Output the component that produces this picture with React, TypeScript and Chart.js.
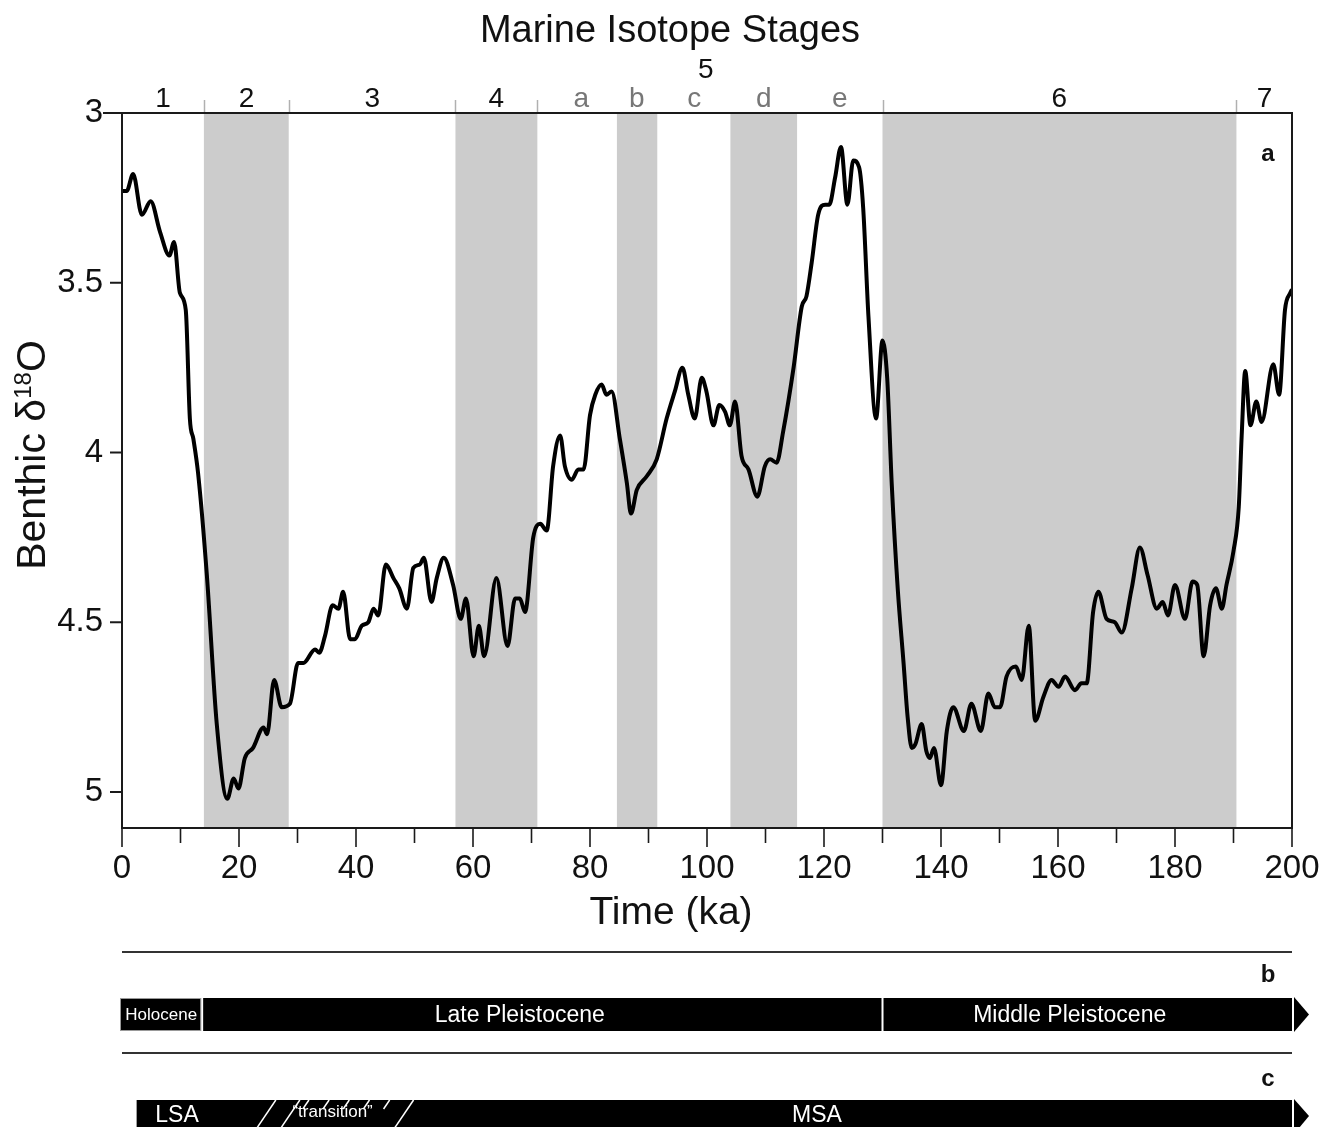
import React, { useEffect, useRef } from 'react';
import { Chart, registerables } from 'chart.js';

Chart.register(...registerables);

const FONT = '"Liberation Sans", Arial, Helvetica, sans-serif';

// Benthic δ18O record (ka, ‰)
const ageKa = [
  0.0, 0.8, 1.9, 3.4, 4.9, 6.5, 8.1, 8.9, 9.9, 10.9, 11.6, 12.2, 13.0, 14.5, 16.2, 18.0, 19.1, 19.9,
  21.0, 22.4, 24.2, 24.8, 26.0, 27.3, 28.7, 30.1, 31.0, 33.0, 33.7, 34.7, 36.0, 37.0, 37.8, 39.0,
  39.8, 41.0, 42.1, 43.0, 43.8, 45.1, 46.4, 47.4, 48.7, 49.8, 50.9, 51.6, 52.9, 53.8, 55.0, 56.6,
  57.9, 58.8, 60.1, 61.0, 61.9, 64.0, 65.9, 67.2, 68.0, 68.9, 70.3, 71.5, 72.6, 73.7, 74.9, 75.7,
  76.9, 78.0, 78.9, 80.0, 80.9, 82.0, 82.8, 83.7, 85.1, 86.3, 87.0, 88.0, 89.7, 91.4, 93.1, 94.5,
  95.8, 96.8, 97.9, 99.1, 99.9, 101.1, 102.1, 103.1, 103.9, 104.8, 105.9, 107.1, 108.6, 109.9,
  110.8, 111.9, 113.0, 114.8, 116.2, 117.0, 117.9, 119.0, 120.2, 120.9, 121.9, 122.9, 124.0, 125.0,
  126.0, 126.7, 127.6, 128.9, 130.0, 130.8, 131.6, 132.6, 133.6, 134.3, 135.0, 135.6, 136.7, 137.5, 138.1,
  138.8, 140.0, 141.0, 142.1, 143.9, 145.2, 146.8, 148.1, 149.2, 150.1, 151.2, 152.8, 153.8, 155.0,
  156.1, 157.5, 158.9, 160.1, 161.2, 162.9, 164.0, 164.9, 166.0, 166.9, 168.3, 169.7, 170.9, 172.6,
  174.0, 175.3, 176.9, 177.9, 178.8, 180.0, 181.7, 183.0, 183.8, 184.9, 186.0, 187.0, 188.0, 188.8,
  190.0, 190.9, 191.4, 192.0, 192.9, 193.9, 194.8, 196.8, 197.8, 198.8, 199.7, 200.0,
];
const benthicD18O = [
  3.23, 3.23, 3.18, 3.30, 3.26, 3.35, 3.42, 3.38, 3.53, 3.58, 3.90, 3.96, 4.06, 4.36, 4.80, 5.02, 4.96, 4.99,
  4.90, 4.87, 4.81, 4.83, 4.67, 4.75, 4.74, 4.62, 4.62, 4.58, 4.59, 4.54, 4.45, 4.46, 4.41, 4.55,
  4.55, 4.51, 4.50, 4.46, 4.48, 4.33, 4.37, 4.40, 4.46, 4.34, 4.33, 4.31, 4.44, 4.37, 4.31, 4.39,
  4.49, 4.43, 4.60, 4.51, 4.60, 4.37, 4.57, 4.43, 4.43, 4.47, 4.25, 4.21, 4.23, 4.04, 3.95, 4.04,
  4.08, 4.05, 4.05, 3.89, 3.83, 3.80, 3.83, 3.82, 3.96, 4.09, 4.18, 4.11, 4.07, 4.02, 3.90, 3.82,
  3.75, 3.83, 3.90, 3.78, 3.82, 3.92, 3.86, 3.88, 3.92, 3.85, 4.01, 4.05, 4.13, 4.04,
  4.02, 4.03, 3.94, 3.75, 3.57, 3.54, 3.44, 3.30, 3.27, 3.27, 3.19, 3.10, 3.27, 3.14,
  3.16, 3.28, 3.60, 3.90, 3.67, 3.78, 4.10, 4.40, 4.62, 4.78, 4.87, 4.86, 4.80, 4.88, 4.90,
  4.87, 4.98, 4.82, 4.75, 4.82, 4.74, 4.82, 4.71, 4.75, 4.75, 4.66, 4.63, 4.67, 4.51,
  4.79, 4.72, 4.67, 4.69, 4.66, 4.70, 4.68, 4.68, 4.47, 4.41, 4.49, 4.50, 4.53, 4.40,
  4.28, 4.36, 4.46, 4.44, 4.48, 4.39, 4.49, 4.38, 4.39, 4.60, 4.45, 4.40, 4.46, 4.39,
  4.29, 4.16, 3.95, 3.76, 3.92, 3.85, 3.91, 3.74, 3.83, 3.58, 3.53, 3.52,
];

const xTickValues = [0, 20, 40, 60, 80, 100, 120, 140, 160, 180, 200];
const xMinorTickValues = [10, 30, 50, 70, 90, 110, 130, 150, 170, 190];
const yTickValues = [3, 3.5, 4, 4.5, 5];

// Marine Isotope Stages
const stageBoundaryKa = [14, 28.5, 57, 71, 130, 190.5];
const glacialBandStartKa = [14, 57, 84.6, 104, 130];
const glacialBandEndKa = [28.5, 71, 91.5, 115.4, 190.5];
const stageLabels = ['1', '2', '3', '4', 'a', 'b', 'c', 'd', 'e', '6', '7'];
const stageLabelKa = [7, 21.3, 42.8, 64, 78.5, 88, 97.8, 109.7, 122.7, 160.2, 195.3];
const stageIsSubstage = [false, false, false, false, true, true, true, true, true, false, false];
const stage5LabelKa = 99.8;

// Panel b: geological epochs
const epochNames = ['Holocene', 'Late Pleistocene', 'Middle Pleistocene'];
const epochStartKa = [0, 13.7, 130];
const epochEndKa = [13.7, 130, 200];
const epochLabelKa = [6.7, 68, 162];
const epochFontSize = [17, 23, 23];

// Panel c: archaeological industries
const industryNames = ['LSA', '\u201Ctransition\u201D', 'MSA'];
const industryLabelKa = [9.4, 36, 118.8];
const industryFontSize = [23, 17, 23];
const industryBarStartKa = 2.5;
const transitionStartKa = 21;
const transitionEndKa = 49.5;

export default function App() {
  const canvasRef = useRef<HTMLCanvasElement | null>(null);

  useEffect(() => {
    const canvas = canvasRef.current;
    if (!canvas) return;

    const decor = {
      id: 'decor',
      beforeDraw(chart: any) {
        const ctx = chart.ctx;
        ctx.save();
        ctx.fillStyle = '#ffffff';
        ctx.fillRect(0, 0, chart.width, chart.height);
        ctx.restore();
      },
      beforeDatasetsDraw(chart: any) {
        const { ctx, chartArea, scales } = chart;
        const xs = scales.x;
        ctx.save();
        ctx.fillStyle = '#cccccc';
        for (let i = 0; i < glacialBandStartKa.length; i++) {
          const a = xs.getPixelForValue(glacialBandStartKa[i]);
          const b = xs.getPixelForValue(glacialBandEndKa[i]);
          ctx.fillRect(a, chartArea.top, b - a, chartArea.bottom - chartArea.top);
        }
        ctx.restore();
      },
      afterDatasetsDraw(chart: any) {
        const { ctx, chartArea, scales } = chart;
        const xs = scales.x;
        const ys = scales.y;
        const L = chartArea.left, R = chartArea.right, T = chartArea.top, B = chartArea.bottom;
        ctx.save();

        // stage boundary ticks above the top border
        ctx.strokeStyle = '#b0b0b0';
        ctx.lineWidth = 1.5;
        for (const v of stageBoundaryKa) {
          const px = Math.round(xs.getPixelForValue(v)) + 0.5;
          ctx.beginPath();
          ctx.moveTo(px, T - 13);
          ctx.lineTo(px, T);
          ctx.stroke();
        }

        // frame
        ctx.strokeStyle = '#1a1a1a';
        ctx.lineWidth = 2;
        ctx.beginPath();
        ctx.moveTo(L - 19, T);
        ctx.lineTo(R, T);
        ctx.lineTo(R, B);
        ctx.lineTo(L, B);
        ctx.lineTo(L, T);
        ctx.stroke();

        // y ticks
        for (const v of yTickValues) {
          const py = ys.getPixelForValue(v);
          ctx.beginPath();
          ctx.moveTo(L - 12, py);
          ctx.lineTo(L, py);
          ctx.stroke();
        }
        // x ticks
        ctx.lineWidth = 1.6;
        for (const v of xTickValues) {
          const px = xs.getPixelForValue(v);
          ctx.beginPath();
          ctx.moveTo(px, B);
          ctx.lineTo(px, B + 19);
          ctx.stroke();
        }
        for (const v of xMinorTickValues) {
          const px = xs.getPixelForValue(v);
          ctx.beginPath();
          ctx.moveTo(px, B);
          ctx.lineTo(px, B + 15);
          ctx.stroke();
        }

        // Title and stage labels
        ctx.textAlign = 'center';
        ctx.textBaseline = 'alphabetic';
        ctx.fillStyle = '#111';
        ctx.font = `38px ${FONT}`;
        ctx.fillText('Marine Isotope Stages', 670, 42);
        ctx.font = `28px ${FONT}`;
        ctx.fillText('5', xs.getPixelForValue(stage5LabelKa), 78);
        for (let i = 0; i < stageLabels.length; i++) {
          ctx.fillStyle = stageIsSubstage[i] ? '#777777' : '#111111';
          ctx.fillText(stageLabels[i], xs.getPixelForValue(stageLabelKa[i]), 107);
        }

        // panel letter a
        ctx.fillStyle = '#111';
        ctx.font = `bold 24px ${FONT}`;
        ctx.fillText('a', 1268, 161);

        // x title
        ctx.font = `39px ${FONT}`;
        ctx.fillText('Time (ka)', 671, 924);

        // y title with superscript
        ctx.save();
        ctx.translate(45, 455);
        ctx.rotate(-Math.PI / 2);
        ctx.textAlign = 'left';
        const big = `41px ${FONT}`;
        const small = `24px ${FONT}`;
        ctx.font = big;
        const w1 = ctx.measureText('Benthic \u03B4').width;
        const w3 = ctx.measureText('O').width;
        ctx.font = small;
        const w2 = ctx.measureText('18').width;
        let sx = -(w1 + w2 + w3) / 2;
        ctx.font = big;
        ctx.fillText('Benthic \u03B4', sx, 0);
        sx += w1;
        ctx.font = small;
        ctx.fillText('18', sx, -14);
        sx += w2;
        ctx.font = big;
        ctx.fillText('O', sx, 0);
        ctx.restore();

        // Panel b
        const x0 = xs.getPixelForValue(0);
        const x200 = xs.getPixelForValue(200);
        ctx.strokeStyle = '#333';
        ctx.lineWidth = 2;
        ctx.beginPath();
        ctx.moveTo(x0, 952);
        ctx.lineTo(x200, 952);
        ctx.moveTo(x0, 1053);
        ctx.lineTo(x200, 1053);
        ctx.stroke();

        ctx.fillStyle = '#111';
        ctx.font = `bold 24px ${FONT}`;
        ctx.textAlign = 'center';
        ctx.fillText('b', 1268, 982);
        ctx.fillText('c', 1268, 1086);

        const bTop = 998, bBot = 1031;
        ctx.fillStyle = '#000';
        ctx.fillRect(x0 - 2, bTop, x200 - x0 + 2, bBot - bTop);
        ctx.beginPath();
        ctx.moveTo(x200 + 2, bTop - 1);
        ctx.lineTo(x200 + 17, (bTop + bBot) / 2);
        ctx.lineTo(x200 + 2, bBot + 1);
        ctx.closePath();
        ctx.fill();
        ctx.strokeStyle = '#999';
        ctx.lineWidth = 1;
        ctx.strokeRect(x0 - 1.5, bTop + 0.5, xs.getPixelForValue(epochEndKa[0]) - x0, bBot - bTop - 1);
        ctx.fillStyle = '#fff';
        for (let i = 1; i < epochStartKa.length; i++) {
          const px = xs.getPixelForValue(epochStartKa[i]);
          ctx.fillRect(px - 1, bTop, 2, bBot - bTop);
        }
        ctx.textBaseline = 'middle';
        for (let i = 0; i < epochNames.length; i++) {
          ctx.font = `${epochFontSize[i]}px ${FONT}`;
          ctx.fillText(epochNames[i], xs.getPixelForValue(epochLabelKa[i]), (bTop + bBot) / 2 + 1);
        }

        // Panel c
        const cTop = 1100, cBot = 1134;
        const cStart = xs.getPixelForValue(industryBarStartKa);
        ctx.fillStyle = '#000';
        ctx.fillRect(cStart, cTop, x200 - cStart, cBot - cTop);
        ctx.beginPath();
        ctx.moveTo(x200 + 2, cTop - 1);
        ctx.lineTo(x200 + 17, (cTop + cBot) / 2 - 1);
        ctx.lineTo(x200 + 2, cBot);
        ctx.closePath();
        ctx.fill();

        // hatch for transition
        const tA = xs.getPixelForValue(transitionStartKa);
        const tB = xs.getPixelForValue(transitionEndKa);
        ctx.strokeStyle = '#fff';
        ctx.lineWidth = 1.5;
        const slope = 23 / 34;
        const longLines = [tA + 8, tA + 32, tB - 21];
        for (const bx of longLines) {
          ctx.beginPath();
          ctx.moveTo(bx, cBot);
          ctx.lineTo(bx + (cBot - cTop) * slope, cTop);
          ctx.stroke();
        }
        const nShort = 5;
        for (let k = 0; k < nShort; k++) {
          const tx = tA + 58 + k * ((tB - tA - 58 - 28) / (nShort - 1));
          ctx.beginPath();
          ctx.moveTo(tx, cTop + 9);
          ctx.lineTo(tx + 9 * slope, cTop);
          ctx.stroke();
        }
        ctx.fillStyle = '#fff';
        for (let i = 0; i < industryNames.length; i++) {
          ctx.font = `${industryFontSize[i]}px ${FONT}`;
          ctx.fillText(industryNames[i], xs.getPixelForValue(industryLabelKa[i]), i === 1 ? 1112 : 1116);
        }

        ctx.restore();
      },
    };

    const chart = new Chart(canvas, {
      type: 'line',
      data: {
        datasets: [
          {
            data: ageKa.map((a, i) => ({ x: a, y: benthicD18O[i] })),
            borderColor: '#000000',
            borderWidth: 4,
            pointRadius: 0,
            cubicInterpolationMode: 'monotone',
            fill: false,
          },
        ],
      },
      options: {
        responsive: false,
        animation: false,
        events: [],
        layout: { padding: { left: 0, top: 113, right: 38, bottom: 239 } },
        plugins: { legend: { display: false }, tooltip: { enabled: false }, title: { display: false } },
        scales: {
          x: {
            type: 'linear',
            min: 0,
            max: 200,
            grid: { display: false },
            border: { display: false },
            afterBuildTicks: (s: any) => {
              s.ticks = xTickValues.map((v) => ({ value: v }));
            },
            afterFit: (s: any) => {
              s.height = 60;
              s.paddingLeft = 0;
              s.paddingRight = 0;
            },
            ticks: {
              padding: 13,
              maxRotation: 0,
              autoSkip: false,
              color: '#111',
              font: { family: FONT, size: 33 },
              callback: (v: any) => String(v),
            },
          },
          y: {
            type: 'linear',
            reverse: true,
            min: 3,
            max: 5.106,
            grid: { display: false },
            border: { display: false },
            afterBuildTicks: (s: any) => {
              s.ticks = yTickValues.map((v) => ({ value: v }));
            },
            afterFit: (s: any) => {
              s.width = 122;
              s.paddingTop = 0;
              s.paddingBottom = 0;
            },
            ticks: {
              padding: 11,
              autoSkip: false,
              color: '#111',
              font: { family: FONT, size: 33 },
              callback: (v: any) => String(v),
            },
          },
        },
      },
      plugins: [decor],
    } as any);

    return () => {
      chart.destroy();
    };
  }, []);

  return (
    <div style={{ position: 'absolute', left: 0, top: 0, width: 1330, height: 1127, background: '#fff' }}>
      <canvas ref={canvasRef} width={1330} height={1127} style={{ display: 'block' }} />
    </div>
  );
}
